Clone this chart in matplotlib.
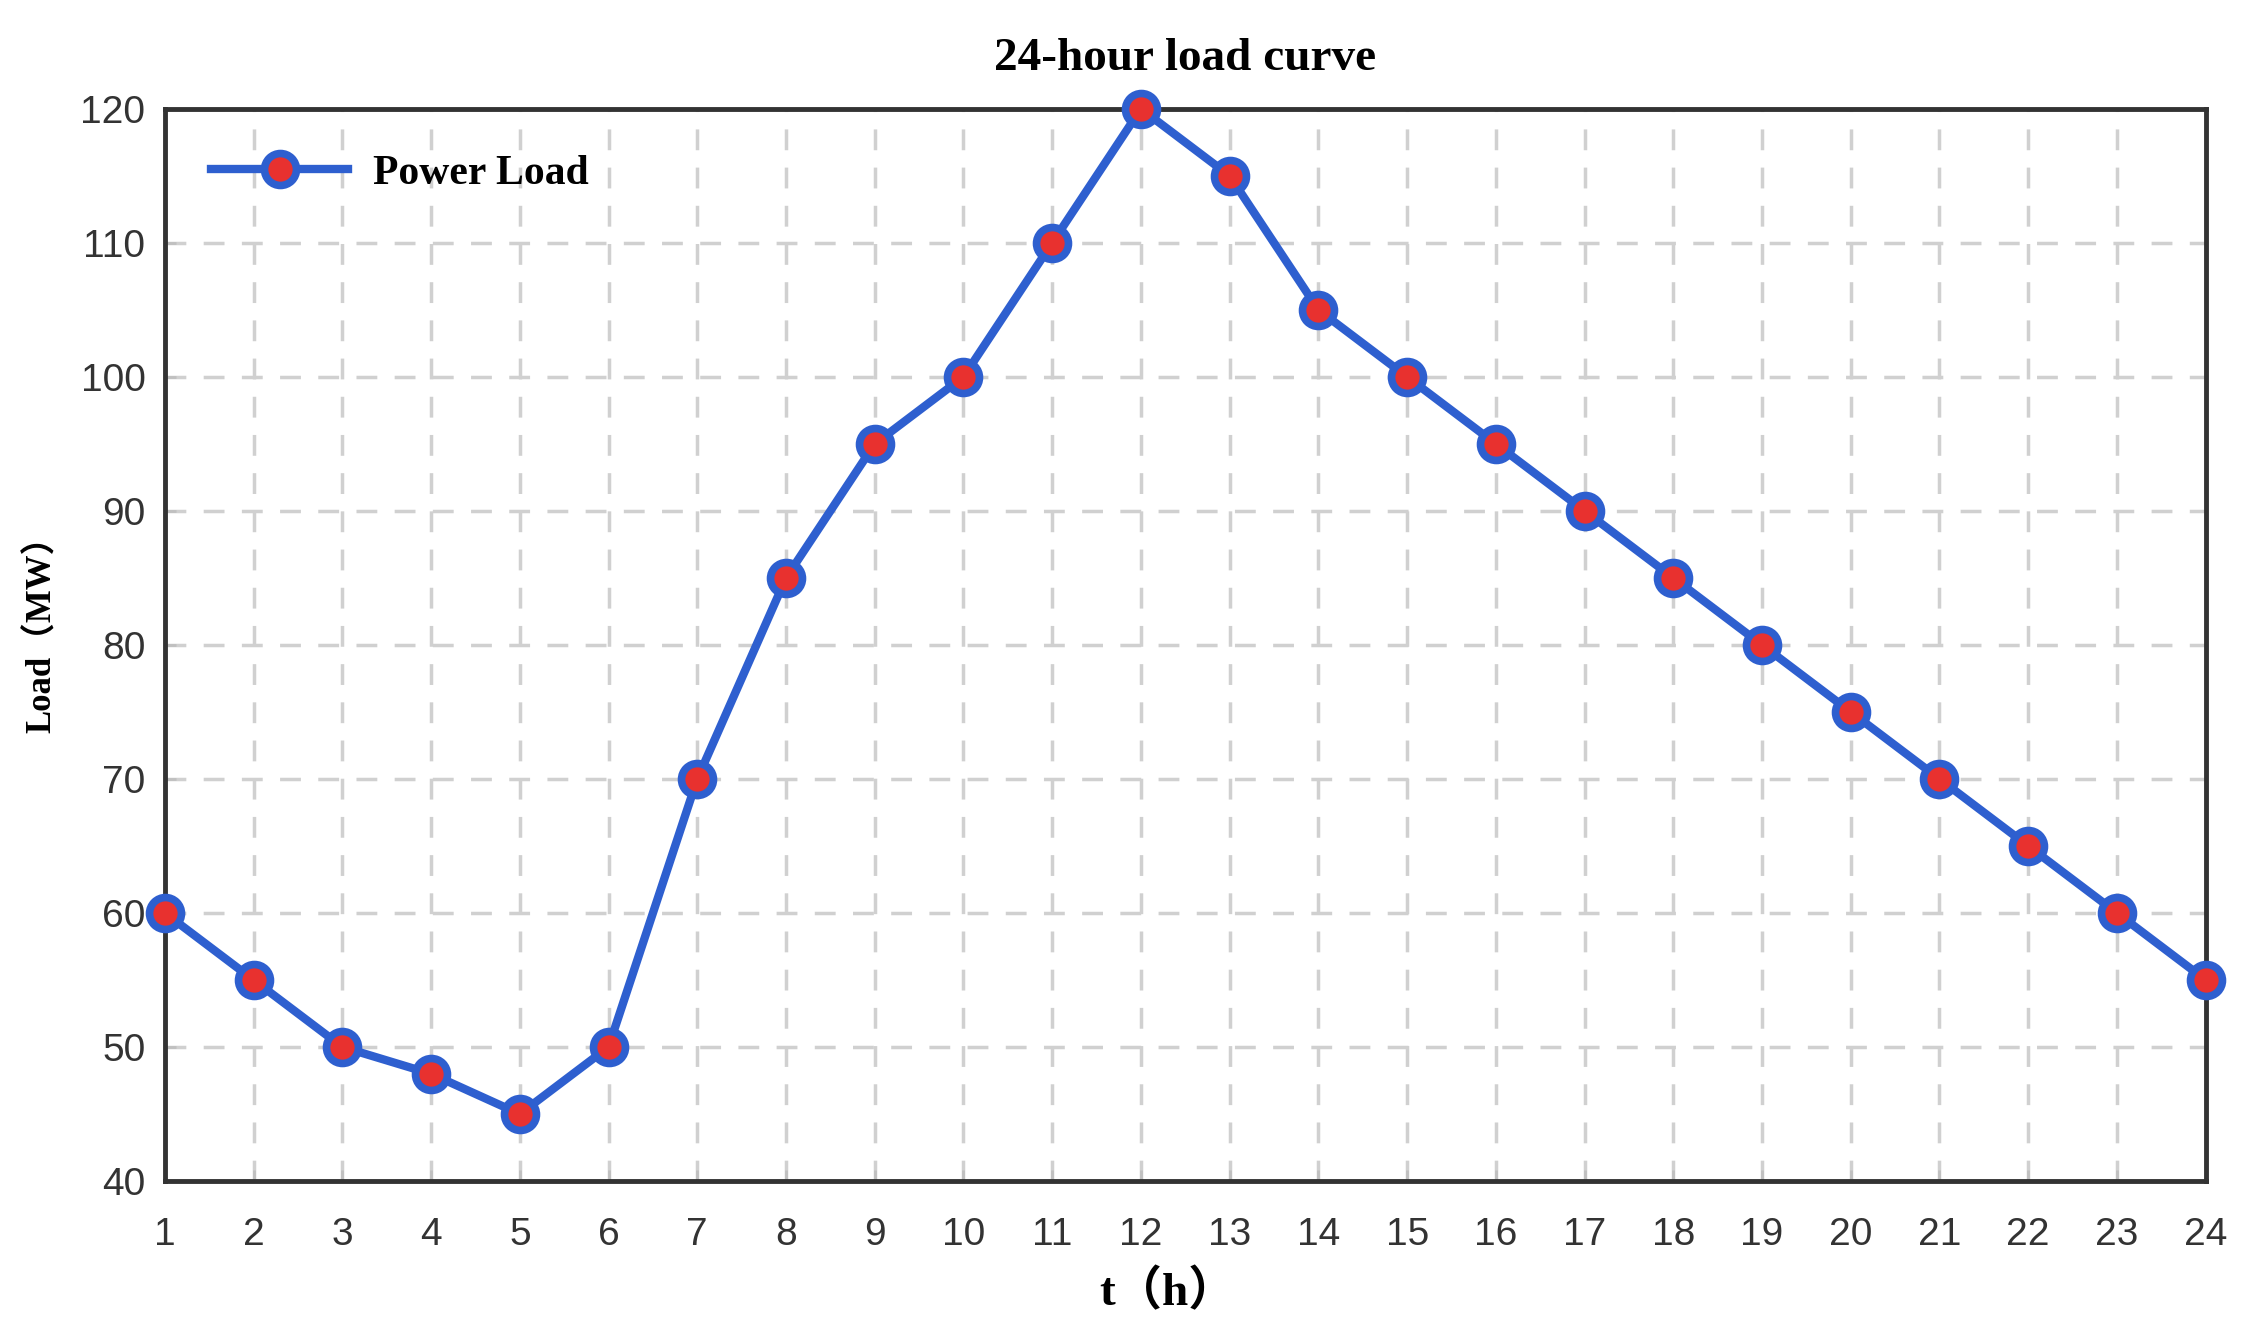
import matplotlib
matplotlib.use("Agg")
import matplotlib.pyplot as plt

# -----------------------------
# Data
# -----------------------------
hours = list(range(1, 25))
load = [60, 55, 50, 48, 45, 50, 70, 85, 95, 100, 110, 120,
        115, 105, 100, 95, 90, 85, 80, 75, 70, 65, 60, 55]
yticks = [40, 50, 60, 70, 80, 90, 100, 110, 120]

serif = ["Liberation Serif", "Noto Sans CJK SC"]

# -----------------------------
# Plot
# -----------------------------
fig = plt.figure(figsize=(22.53, 13.27), dpi=100)
ax = fig.add_axes([0.0732, 0.110, 0.9058, 0.808])

ax.plot(hours, load, color="#2E5FCF", linewidth=6,
        marker="o", markersize=23, markerfacecolor="#E8312F",
        markeredgecolor="#2E5FCF", markeredgewidth=5.5,
        label="Power Load", clip_on=False, zorder=3)

ax.set_xlim(1, 24)
ax.set_ylim(40, 120)
ax.set_xticks(hours)
ax.set_yticks(yticks)
ax.grid(True, linestyle=(0, (6, 5)), color="#d0d0d0", linewidth=2.5)
ax.tick_params(axis="both", labelsize=28, labelcolor="#333333",
               color="#c0c0c0", direction="in", length=8, width=2)
ax.tick_params(axis="x", pad=26)
ax.tick_params(axis="y", pad=14)
for lbl in ax.get_xticklabels() + ax.get_yticklabels():
    lbl.set_family("Liberation Sans")
for s in ax.spines.values():
    s.set_linewidth(3.5)
    s.set_color("#333333")

ax.set_title("24-hour load curve", fontsize=34, fontweight="bold",
             family=serif, pad=28)
ax.set_xlabel("t（h）", fontsize=34, fontweight="bold", family=serif)
ax.xaxis.set_label_coords(0.4915, -0.083)
ax.set_ylabel("Load（MW）", fontsize=25, fontweight="bold", family=serif)
ax.yaxis.set_label_coords(-0.052, 0.518)

leg = ax.legend(loc="upper left", frameon=False,
                prop={"family": serif, "weight": "bold", "size": 30},
                handlelength=3.3, borderaxespad=0.7, handletextpad=0.6)

fig.savefig("out.png", dpi=100)
